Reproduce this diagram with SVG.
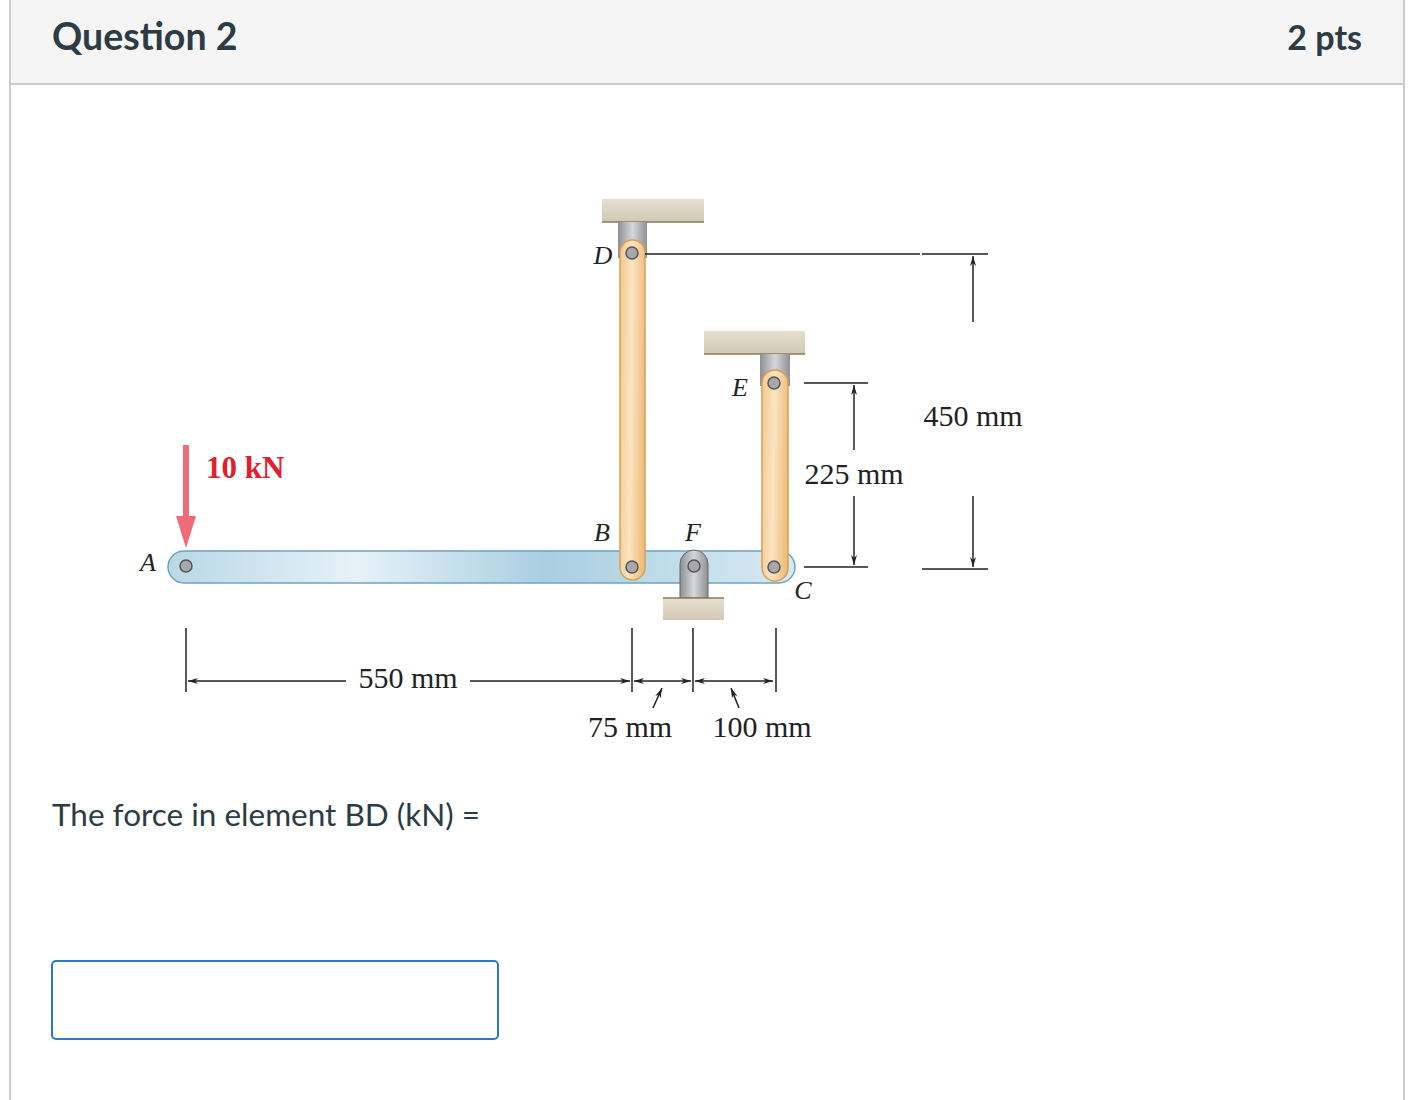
<svg xmlns="http://www.w3.org/2000/svg" width="1426" height="1100" viewBox="0 0 1426 1100">
<defs>
<linearGradient id="wood" x1="0" y1="0" x2="1" y2="0.15">
<stop offset="0" stop-color="#f3c98e"/><stop offset="0.5" stop-color="#fbe4c2"/><stop offset="1" stop-color="#efbf80"/>
</linearGradient>
<linearGradient id="beam" x1="0" y1="0" x2="1" y2="0">
<stop offset="0" stop-color="#b9d8e6"/><stop offset="0.3" stop-color="#e6f2f8"/><stop offset="0.6" stop-color="#a9cfe0"/><stop offset="1" stop-color="#d6eaf3"/>
</linearGradient>
<linearGradient id="metal" x1="0" y1="0" x2="1" y2="0">
<stop offset="0" stop-color="#8d8f93"/><stop offset="0.5" stop-color="#d5d7da"/><stop offset="1" stop-color="#8d8f93"/>
</linearGradient>
<linearGradient id="ground" x1="0" y1="0" x2="0" y2="1">
<stop offset="0" stop-color="#e6dfd2"/><stop offset="1" stop-color="#d2c8b4"/>
</linearGradient>
<marker id="ah" viewBox="0 0 10 6" refX="10" refY="3" markerWidth="10" markerHeight="6" orient="auto-start-reverse" markerUnits="userSpaceOnUse">
<path d="M0,0 L10,3 L0,6 L3,3 Z" fill="#222"/>
</marker>
</defs>
<style>
.pin{fill:#a8a8aa;stroke:#555;stroke-width:1.5}
.lbl{font-family:"Liberation Serif",serif;font-style:italic;font-size:26px;fill:#222}
.dim{font-family:"Liberation Serif",serif;font-size:30px;fill:#222}
.ln{stroke:#222;stroke-width:1.5;fill:none}
.ui{font-family:Lato,"Liberation Sans",sans-serif;fill:#2d3b45}
</style>
<rect x="0" y="0" width="1426" height="1100" fill="#fff"/>
<g id="header">
<rect x="10" y="0" width="1394" height="84" fill="#f5f5f5"/>
<line x1="10" y1="84" x2="1404" y2="84" stroke="#c7cdd1" stroke-width="2"/>
<line x1="10" y1="0" x2="10" y2="1100" stroke="#c7cdd1" stroke-width="2"/>
<line x1="1404" y1="0" x2="1404" y2="1100" stroke="#c7cdd1" stroke-width="2"/>
<text x="52" y="50" class="ui" font-size="37.5" font-weight="bold">Question 2</text>
<text x="1362" y="50" class="ui" font-size="34" font-weight="bold" text-anchor="end">2 pts</text>
</g>
<g id="supports">
<rect x="602" y="199" width="102" height="23" fill="url(#ground)"/><line x1="602" y1="222" x2="704" y2="222" stroke="#8a7a55" stroke-width="1.5"/>
<rect x="618" y="222" width="29" height="36" fill="url(#metal)"/>
<rect x="704" y="331" width="101" height="23" fill="url(#ground)"/><line x1="704" y1="354" x2="805" y2="354" stroke="#8a7a55" stroke-width="1.5"/>
<rect x="760" y="354" width="30" height="32" fill="url(#metal)"/>
</g>
<g id="beamAC">
<rect x="168" y="551" width="627" height="32" rx="16" fill="url(#beam)" stroke="#6fa3bd" stroke-width="1.5"/>
<circle cx="186" cy="566" r="6" class="pin"/>
</g>
<g id="linkBD">
<rect x="620" y="240" width="25" height="340" rx="12.5" fill="url(#wood)" stroke="#d9a054" stroke-width="1.5"/>
<circle cx="632" cy="253" r="6" class="pin"/>
<circle cx="632" cy="567" r="6" class="pin"/>
</g>
<g id="linkEC">
<rect x="762" y="370" width="26" height="211" rx="13" fill="url(#wood)" stroke="#d9a054" stroke-width="1.5"/>
<circle cx="774" cy="383" r="6" class="pin"/>
<circle cx="774" cy="567" r="6" class="pin"/>
</g>
<g id="supportF">
<path d="M680,598 L680,564 A14,14 0 0 1 708,564 L708,598 Z" fill="url(#metal)" stroke="#666" stroke-width="1"/>
<circle cx="694" cy="566" r="6" class="pin"/>
<rect x="663" y="598" width="61" height="22" fill="url(#ground)"/><line x1="663" y1="598" x2="724" y2="598" stroke="#8a7a55" stroke-width="1.5"/>
</g>
<g id="load">
<rect x="183" y="445" width="6" height="74" fill="#f06a78"/>
<path d="M176,516 L196,516 L186,548 Z" fill="#f06a78"/>
<text x="206" y="478" font-family="Liberation Serif,serif" font-weight="bold" font-size="31" fill="#e0202a">10 kN</text>
</g>
<g id="labels">
<text x="148" y="571" class="lbl" text-anchor="middle" font-style="normal">A</text>
<text x="603" y="264" class="lbl" text-anchor="middle">D</text>
<text x="740" y="396" class="lbl" text-anchor="middle">E</text>
<text x="602" y="541" class="lbl" text-anchor="middle">B</text>
<text x="693" y="541" class="lbl" text-anchor="middle">F</text>
<text x="803" y="599" class="lbl" text-anchor="middle">C</text>
</g>
<g id="connectors">
<line x1="645" y1="254" x2="920" y2="254" class="ln"/>
<line x1="922" y1="254" x2="988" y2="254" class="ln"/>
<line x1="922" y1="569" x2="988" y2="569" class="ln"/>
<line x1="973" y1="322" x2="973" y2="256" class="ln" marker-end="url(#ah)"/>
<line x1="973" y1="496" x2="973" y2="567" class="ln" marker-end="url(#ah)"/>
<line x1="804" y1="383" x2="868" y2="383" class="ln"/>
<line x1="804" y1="567" x2="868" y2="567" class="ln"/>
<line x1="854" y1="450" x2="854" y2="385" class="ln" marker-end="url(#ah)"/>
<line x1="854" y1="496" x2="854" y2="565" class="ln" marker-end="url(#ah)"/>
<line x1="186" y1="628" x2="186" y2="692" class="ln"/>
<line x1="632" y1="628" x2="632" y2="692" class="ln"/>
<line x1="693" y1="628" x2="693" y2="692" class="ln"/>
<line x1="776" y1="628" x2="776" y2="692" class="ln"/>
<line x1="346" y1="681" x2="188" y2="681" class="ln" marker-end="url(#ah)"/>
<line x1="470" y1="681" x2="630" y2="681" class="ln" marker-end="url(#ah)"/>
<line x1="634" y1="681" x2="691" y2="681" class="ln" marker-start="url(#ah)" marker-end="url(#ah)"/>
<line x1="695" y1="681" x2="773" y2="681" class="ln" marker-start="url(#ah)" marker-end="url(#ah)"/>
<line x1="653" y1="708" x2="662" y2="688" class="ln" marker-end="url(#ah)"/>
<line x1="739" y1="708" x2="731" y2="688" class="ln" marker-end="url(#ah)"/>
</g>
<g id="dims">
<text x="408" y="688" class="dim" text-anchor="middle">550 mm</text>
<text x="630" y="737" class="dim" text-anchor="middle">75 mm</text>
<text x="762" y="737" class="dim" text-anchor="middle">100 mm</text>
<text x="854" y="484" class="dim" text-anchor="middle">225 mm</text>
<text x="973" y="426" class="dim" text-anchor="middle">450 mm</text>
</g>
<g id="question">
<text x="52" y="826" class="ui" font-size="31.5">The force in element BD (kN) =</text>
<rect x="52" y="961" width="446" height="78" rx="4" fill="#fff" stroke="#2b7abc" stroke-width="2"/>
</g>
</svg>
